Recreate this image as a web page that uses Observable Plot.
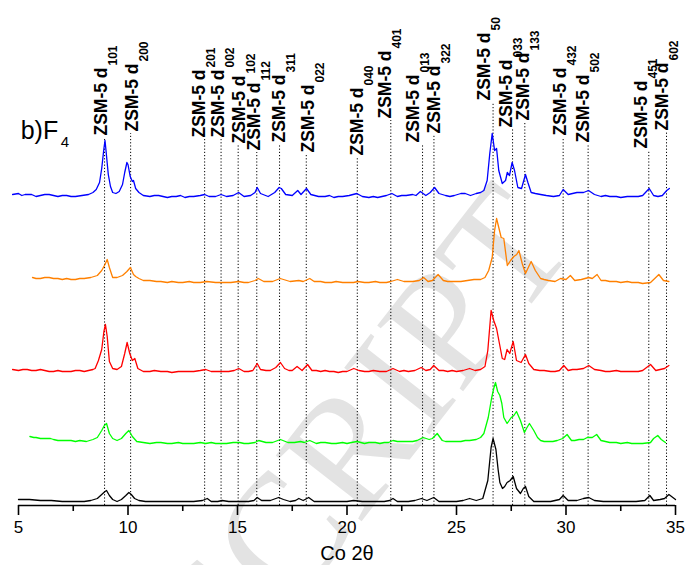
<!DOCTYPE html>
<html><head><meta charset="utf-8">
<script src="https://cdn.jsdelivr.net/npm/d3@7"></script>
<script src="https://cdn.jsdelivr.net/npm/@observablehq/plot@0.6"></script>
<style>body{margin:0;background:#fff}#chart svg{display:block}</style>
</head><body><div id="chart"></div>
<script>
// 2θ (Co) vs intensity above each pattern's own baseline (a.u.)
const blue = [[4.73,2],[5.0,3],[5.15,1],[5.3,2],[5.6,2],[5.8,0],[6.0,1],[6.2,2],[6.4,2],[6.6,1],[6.8,0],[7.0,1],[7.2,1],[7.4,0],[7.6,0],[7.9,1],[8.2,2],[8.4,4],[8.55,7],[8.7,14],[8.8,28],[8.9,48],[8.95,56],[9.0,45],[9.1,22],[9.2,10],[9.3,4],[9.45,3],[9.6,5],[9.75,12],[9.85,24],[9.95,34],[10.0,32],[10.1,20],[10.2,15],[10.25,16],[10.35,8],[10.5,4],[10.7,1],[11.0,0],[11.2,1],[11.4,1],[11.6,0],[11.8,-1],[12.0,0],[12.2,0],[12.4,1],[12.6,-1],[12.8,0],[13.0,0],[13.3,1],[13.5,2],[13.7,0],[14.0,0],[14.25,2],[14.5,0],[14.8,1],[15.05,4],[15.3,0],[15.6,1],[15.8,4],[15.9,9],[16.05,3],[16.4,0],[16.7,4],[16.9,9],[17.0,8],[17.2,2],[17.5,1],[17.75,6],[17.9,2],[18.15,8],[18.35,2],[18.7,0],[19.0,0],[19.2,1],[19.4,-1],[19.6,0],[19.8,0],[20.1,1],[20.45,3],[20.7,0],[21.0,-1],[21.2,0],[21.4,-1],[21.6,0],[21.8,1],[22.05,3],[22.3,0],[22.5,1],[22.7,1],[23.0,2],[23.15,1],[23.35,5],[23.6,1],[23.8,4],[24.0,9],[24.2,3],[24.5,1],[24.7,0],[24.9,1],[25.2,3],[25.4,3],[25.64,1],[25.9,3],[26.1,4],[26.25,6],[26.4,16],[26.52,43],[26.63,63],[26.74,46],[26.83,48],[26.93,26],[27.09,13],[27.24,16],[27.32,24],[27.42,21],[27.54,34],[27.65,26],[27.8,9],[27.97,8],[28.15,22],[28.26,14],[28.41,4],[28.6,3],[28.84,2],[29.1,1],[29.43,0],[29.7,1],[29.87,7],[30.1,2],[30.3,3],[30.5,4],[30.8,4],[31.03,6],[31.3,2],[31.6,0],[31.8,1],[32.0,0],[32.3,0],[32.5,-1],[32.8,0],[33.0,0],[33.3,0],[33.5,1],[33.8,8],[34.0,1],[34.2,0],[34.4,1],[34.6,6],[34.72,8]];
const orange = [[5.64,5],[5.8,4],[6.0,4],[6.2,5],[6.4,5],[6.6,4],[6.8,4],[7.0,3],[7.2,4],[7.4,3],[7.6,3],[7.8,4],[8.0,4],[8.3,5],[8.6,7],[8.8,12],[8.95,18],[9.05,23],[9.15,15],[9.3,5],[9.5,5],[9.75,7],[9.95,11],[10.11,15],[10.25,8],[10.35,6],[10.5,4],[10.7,2],[11.0,2],[11.3,1],[11.5,1],[11.8,0],[12.0,1],[12.3,0],[12.5,0],[12.8,1],[13.0,0],[13.3,0],[13.6,1],[14.0,0],[14.3,0],[14.7,0],[15.05,1],[15.3,0],[15.5,0],[15.8,2],[15.95,4],[16.2,1],[16.6,1],[16.95,4],[17.1,3],[17.4,1],[17.8,2],[18.0,1],[18.3,4],[18.5,1],[18.8,1],[19.0,0],[19.3,0],[19.5,1],[19.8,0],[20.0,0],[20.3,0],[20.5,1],[20.8,0],[21.0,0],[21.3,1],[21.5,0],[21.8,0],[22.0,1],[22.3,3],[22.6,1],[22.8,1],[23.0,1],[23.3,2],[23.5,5],[23.7,1],[23.9,2],[24.16,8],[24.4,2],[24.6,1],[24.8,1],[25.0,1],[25.2,1],[25.5,2],[25.8,3],[26.1,3],[26.3,5],[26.47,12],[26.63,25],[26.74,52],[26.83,64],[26.93,55],[27.04,45],[27.16,44],[27.32,17],[27.47,22],[27.62,26],[27.75,28],[27.85,32],[28.0,19],[28.15,9],[28.3,16],[28.41,21],[28.6,12],[28.84,4],[29.0,3],[29.2,2],[29.5,1],[29.75,4],[30.0,3],[30.2,7],[30.4,2],[30.7,3],[31.04,5],[31.2,4],[31.42,8],[31.6,2],[31.8,2],[32.0,1],[32.3,1],[32.5,0],[32.8,1],[33.0,0],[33.3,0],[33.5,-1],[33.86,0],[34.1,5],[34.24,8],[34.45,2],[34.7,1]];
const red = [[4.73,2],[5.0,1],[5.2,2],[5.4,2],[5.6,1],[5.8,1],[6.0,2],[6.2,1],[6.4,0],[6.6,0],[6.8,1],[7.0,0],[7.2,0],[7.4,0],[7.6,1],[7.8,1],[8.0,0],[8.2,1],[8.4,2],[8.5,3],[8.65,11],[8.8,22],[8.9,40],[8.97,47],[9.05,35],[9.15,10],[9.3,3],[9.5,2],[9.7,5],[9.85,18],[9.96,29],[10.08,18],[10.2,11],[10.31,13],[10.45,3],[10.7,0],[11.0,0],[11.2,1],[11.5,0],[11.8,0],[12.0,-1],[12.3,0],[12.5,0],[12.8,0],[13.0,0],[13.3,1],[13.55,2],[13.8,0],[14.0,0],[14.25,0],[14.6,0],[14.85,1],[15.06,3],[15.3,0],[15.5,0],[15.7,1],[15.9,8],[16.05,2],[16.3,1],[16.5,1],[16.75,4],[16.96,9],[17.15,3],[17.35,1],[17.5,1],[17.72,5],[17.95,1],[18.2,7],[18.4,1],[18.6,1],[18.8,0],[19.0,1],[19.2,0],[19.4,0],[19.6,-1],[19.8,0],[20.0,0],[20.31,3],[20.55,1],[20.8,0],[21.0,0],[21.2,1],[21.5,0],[21.8,0],[22.1,3],[22.4,0],[22.6,1],[22.8,0],[23.1,1],[23.39,4],[23.6,1],[23.8,2],[23.96,6],[24.2,1],[24.4,1],[24.6,0],[24.8,1],[25.0,0],[25.3,1],[25.6,3],[25.85,1],[26.1,2],[26.3,5],[26.43,21],[26.58,61],[26.7,51],[26.83,43],[26.96,28],[27.09,13],[27.2,12],[27.31,22],[27.43,18],[27.59,30],[27.74,11],[27.95,9],[28.15,17],[28.3,8],[28.53,2],[28.8,1],[29.0,1],[29.3,0],[29.5,0],[29.7,1],[29.9,6],[30.1,1],[30.3,2],[30.5,2],[30.8,3],[31.04,6],[31.3,2],[31.6,1],[31.8,0],[32.0,0],[32.3,1],[32.5,0],[32.8,0],[33.0,0],[33.3,0],[33.5,1],[33.86,7],[34.1,1],[34.3,2],[34.5,3],[34.7,6]];
const green = [[5.52,7],[5.7,6],[5.8,6],[6.0,5],[6.1,5],[6.3,5],[6.46,5],[6.6,4],[6.8,3],[7.0,3],[7.2,3],[7.4,3],[7.6,2],[7.8,3],[8.1,2],[8.4,4],[8.6,6],[8.8,13],[8.92,18],[9.02,20],[9.15,10],[9.3,5],[9.5,3],[9.7,5],[9.9,10],[10.04,13],[10.2,7],[10.4,2],[10.7,1],[11.0,0],[11.3,1],[11.5,1],[11.8,0],[12.0,0],[12.3,1],[12.5,0],[12.8,0],[13.0,0],[13.3,1],[13.55,0],[13.8,1],[14.0,0],[14.3,0],[14.5,0],[14.8,1],[15.1,1],[15.3,0],[15.5,0],[15.8,1],[15.97,3],[16.3,1],[16.6,1],[16.96,4],[17.3,1],[17.6,1],[17.88,2],[18.05,1],[18.3,3],[18.6,0],[18.8,1],[19.0,1],[19.3,0],[19.5,0],[19.8,1],[20.0,0],[20.2,1],[20.46,2],[20.8,0],[21.0,1],[21.3,1],[21.5,0],[21.7,1],[21.9,1],[22.1,3],[22.3,2],[22.5,2],[22.8,2],[23.0,2],[23.2,3],[23.48,6],[23.75,4],[23.9,5],[24.12,10],[24.35,3],[24.5,2],[24.7,2],[25.0,2],[25.2,2],[25.4,3],[25.6,3],[25.9,4],[26.1,6],[26.25,10],[26.45,26],[26.6,45],[26.7,55],[26.78,61],[26.88,52],[26.98,48],[27.07,40],[27.16,26],[27.31,20],[27.5,26],[27.62,28],[27.74,32],[27.92,23],[28.1,11],[28.22,16],[28.33,20],[28.53,13],[28.7,6],[28.84,3],[29.0,2],[29.2,2],[29.4,2],[29.6,3],[29.85,5],[30.05,9],[30.25,3],[30.4,3],[30.6,4],[30.8,4],[30.97,6],[31.2,6],[31.4,9],[31.6,3],[31.8,2],[32.0,1],[32.3,1],[32.5,0],[32.8,1],[33.0,0],[33.3,0],[33.5,0],[33.86,1],[34.0,5],[34.19,8],[34.35,4],[34.54,1]];
const black = [[5.0,2],[5.5,2],[6.0,1],[6.5,1],[7.0,0],[7.5,0],[8.0,0],[8.3,1],[8.6,3],[8.8,7],[8.95,10],[9.02,11],[9.15,6],[9.3,2],[9.5,0],[9.7,2],[9.9,6],[10.04,9],[10.15,7],[10.3,3],[10.5,1],[10.8,0],[11.5,0],[12.0,0],[12.5,0],[13.0,0],[13.4,1],[13.62,3],[13.8,0],[14.1,0],[14.3,1],[14.6,0],[15.05,0],[15.5,0],[15.75,1],[15.9,4],[16.1,1],[16.5,1],[16.75,3],[16.88,4],[17.1,2],[17.4,0],[17.65,1],[17.8,3],[18.0,1],[18.25,4],[18.5,0],[19.0,0],[19.5,0],[20.0,0],[20.3,1],[20.7,0],[21.2,0],[21.7,0],[21.95,1],[22.1,3],[22.3,0],[22.8,0],[23.1,1],[23.4,3],[23.65,1],[23.96,4],[24.2,0],[24.6,0],[25.0,0],[25.3,1],[25.6,3],[25.9,1],[26.2,3],[26.43,21],[26.58,54],[26.67,63],[26.8,52],[26.9,32],[26.98,19],[27.1,13],[27.2,15],[27.31,19],[27.45,21],[27.59,25],[27.74,13],[27.92,8],[28.05,13],[28.15,15],[28.3,5],[28.53,0],[28.9,0],[29.3,0],[29.7,2],[29.87,6],[30.1,1],[30.5,1],[30.8,3],[31.04,4],[31.3,1],[31.7,0],[32.2,0],[32.7,0],[33.2,0],[33.6,1],[33.83,6],[34.0,1],[34.3,2],[34.5,3],[34.7,7],[35.0,2]];

const seriesData = [blue, orange, red, green, black];
const seriesColors = ["#0000ff", "#ff8000", "#ff0000", "#00ff00", "#000000"];
const seriesOffsets = [309, 223, 134, 62, 4];

// ZSM-5 reflections: line position, label position (2θ), label bottom (a.u.)
const peakPos = [8.93, 10.12, 13.5, 14.25, 15.03, 15.88, 16.92, 18.14, 20.47, 22.0, 23.45, 23.97, 26.67, 27.56, 28.12, 29.87, 31.01, 33.78, 34.59];
const peakSub = ["101","200","201","002","102","112","311","022","040","401","013","322","50","033","133","432","502","451","602"];
const labelPos = [8.79, 10.21, 13.26, 14.11, 15.09, 15.78, 16.92, 18.22, 20.46, 21.76, 23.04, 24.0, 26.26, 27.28, 28.04, 29.75, 30.78, 33.45, 34.38];
const labelBase = [370, 374, 368, 368, 362, 355, 363, 353, 350, 387, 363, 372, 405, 378, 385, 370, 363, 357, 375];

const majorTicks = [5, 10, 15, 20, 25, 30, 35];
const minorTicks = [7.5, 12.5, 17.5, 22.5, 27.5, 32.5];

const labels = peakPos.map((p, i) => ({pos: p, lx: labelPos[i], sub: peakSub[i], base: labelBase[i]}));

const lineMarks = seriesData.map((s, i) =>
  Plot.line(s, {x: d => d[0], y: d => d[1] + seriesOffsets[i], stroke: seriesColors[i], strokeWidth: 1.3, curve: "linear"})
);

const chart = Plot.plot({
  width: 686, height: 565,
  marginLeft: 18, marginRight: 11, marginTop: 0, marginBottom: 60,
  style: {fontFamily: "'Liberation Sans', Arial, sans-serif", background: "white"},
  x: {domain: [5, 35], label: null},
  y: {domain: [0, 505], axis: null},
  marks: [
    Plot.text(["ACCEPTED MANUSCRIPT"], {x: 28.65, y: 294, rotate: -52, textAnchor: "end", lineAnchor: "middle", fontSize: 165, fill: "#e3e3e3", fontFamily: "'Liberation Serif', serif"}),
    Plot.ruleX(labels, {x: "pos", y1: 0, y2: d => d.base - 2, stroke: "#000", strokeWidth: 1, strokeDasharray: "1.2,2"}),
    ...lineMarks,
    Plot.ruleY([0], {stroke: "#000", strokeWidth: 1.6}),
    Plot.axisX(majorTicks, {tickSize: 10, tickPadding: 5, fontSize: 17, strokeWidth: 1.6, label: null}),
    Plot.axisX(minorTicks, {tickSize: 6, tickFormat: () => "", strokeWidth: 1.6, label: null}),
    Plot.text(["Co 2θ"], {frameAnchor: "bottom", dy: 48, fontSize: 20, lineAnchor: "middle"}),
    Plot.text(labels, {x: "lx", y: "base", text: () => "ZSM-5 d", rotate: -90, textAnchor: "start", lineAnchor: "middle", fontSize: 17.5, fontWeight: "bold", fill: "#000"}),
    Plot.text(labels, {x: "lx", y: "base", text: "sub", rotate: -90, textAnchor: "start", lineAnchor: "middle", fontSize: 12, fontWeight: "bold", fill: "#000", dx: 12, dy: -70}),
    Plot.text(["b)F"], {x: 5.1, y: 367, textAnchor: "start", lineAnchor: "bottom", fontSize: 25}),
    Plot.text(["4"], {x: 5.1, y: 367, textAnchor: "start", lineAnchor: "bottom", fontSize: 15, dx: 40, dy: 8})
  ]
});
document.getElementById("chart").append(chart);
</script>
</body></html>
